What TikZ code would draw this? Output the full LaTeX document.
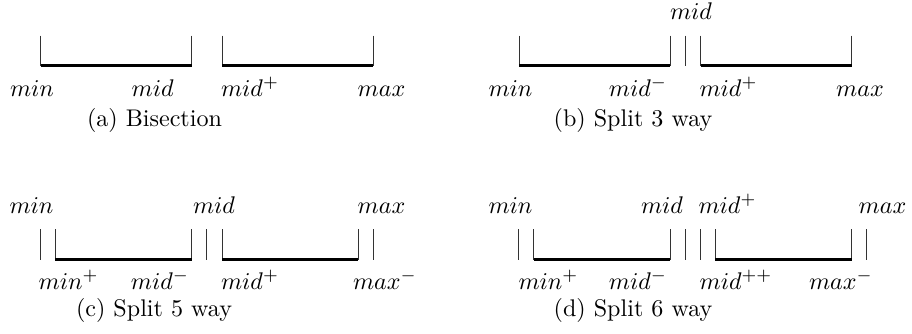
\documentclass[tikz,border=0pt]{standalone}
\begin{document}
\begin{tikzpicture}[x=0.415pt,y=-0.415pt,
  tickline/.style={line width=0.4pt,black!80},
  barline/.style={line width=1.5pt,line cap=butt},
  lbl/.style={anchor=base,inner sep=0pt,font=\fontsize{10}{12}\selectfont},
  captxt/.style={anchor=base,inner sep=0pt,font=\fontsize{10}{12}\selectfont}]
\useasboundingbox (0,0) rectangle (912,333);
% ---------- (a) Bisection ----------
\def\ta{35.7}\def\ba{66}
\foreach \x in {40.7,191.7,222.3,373.3} \draw[tickline] (\x,\ta) -- (\x,\ba);
\draw[barline] (40.7,65.3) -- (191.7,65.3);
\draw[barline] (222.3,65.3) -- (373.3,65.3);
\node[lbl] (amin) at (32,96.5) {$min$};
\node[lbl] (amid) at (152.7,96.5) {$mid$};
\node[lbl] (amidp) at (250,96.5) {$mid^{+}$};
\node[lbl] (amax) at (381.5,96.5) {$max$};
\node[captxt] (acap) at (154.5,126.5) {(a) Bisection};
% ---------- (b) Split 3 way ----------
\foreach \x in {519.3,670.3,685.3,700.7,851.7} \draw[tickline] (\x,\ta) -- (\x,\ba);
\draw[barline] (519.3,65.3) -- (670.3,65.3);
\draw[barline] (700.7,65.3) -- (851.7,65.3);
\node[lbl] (bmidt) at (691,19.8) {$mid$};
\node[lbl] (bmin) at (510.5,96.5) {$min$};
\node[lbl] (bmidm) at (638,96.5) {$mid^{-}$};
\node[lbl] (bmidp) at (728.5,96.5) {$mid^{+}$};
\node[lbl] (bmax) at (860,96.5) {$max$};
\node[captxt] (bcap) at (633,126.5) {(b) Split 3 way};
% ---------- (c) Split 5 way ----------
\def\tc{229.3}\def\bc{259.8}
\foreach \x in {40.7,55,191.7,206.7,222.3,358.3,373.3} \draw[tickline] (\x,\tc) -- (\x,\bc);
\draw[barline] (55,259.3) -- (191.7,259.3);
\draw[barline] (222.3,259.3) -- (358.3,259.3);
\node[lbl] (cmin) at (31.5,213.3) {$min$};
\node[lbl] (cmid) at (214,213.3) {$mid$};
\node[lbl] (cmax) at (381.5,213.3) {$max$};
\node[lbl] (cminp) at (68.7,289.3) {$min^{+}$};
\node[lbl] (cmidm) at (160,289.3) {$mid^{-}$};
\node[lbl] (cmidp) at (250,289.3) {$mid^{+}$};
\node[lbl] (cmaxm) at (385,289.3) {$max^{-}$};
\node[captxt] (ccap) at (154,316.7) {(c) Split 5 way};
% ---------- (d) Split 6 way ----------
\foreach \x in {518.7,533.7,670.3,685.3,700.3,715.3,851.7,866} \draw[tickline] (\x,\tc) -- (\x,\bc);
\draw[barline] (533.7,259.3) -- (670.3,259.3);
\draw[barline] (715.3,259.3) -- (851.7,259.3);
\node[lbl] (dmin) at (510.5,213.3) {$min$};
\node[lbl] (dmid) at (662,213.3) {$mid$};
\node[lbl] (dmidp) at (727.5,213.3) {$mid^{+}$};
\node[lbl] (dmax) at (882.5,213.3) {$max$};
\node[lbl] (dminp) at (548.5,289.3) {$min^{+}$};
\node[lbl] (dmidm) at (638,289.3) {$mid^{-}$};
\node[lbl] (dmidpp) at (736,289.3) {$mid^{++}$};
\node[lbl] (dmaxm) at (841,289.3) {$max^{-}$};
\node[captxt] (dcap) at (633,316.7) {(d) Split 6 way};
\end{tikzpicture}
\end{document}
